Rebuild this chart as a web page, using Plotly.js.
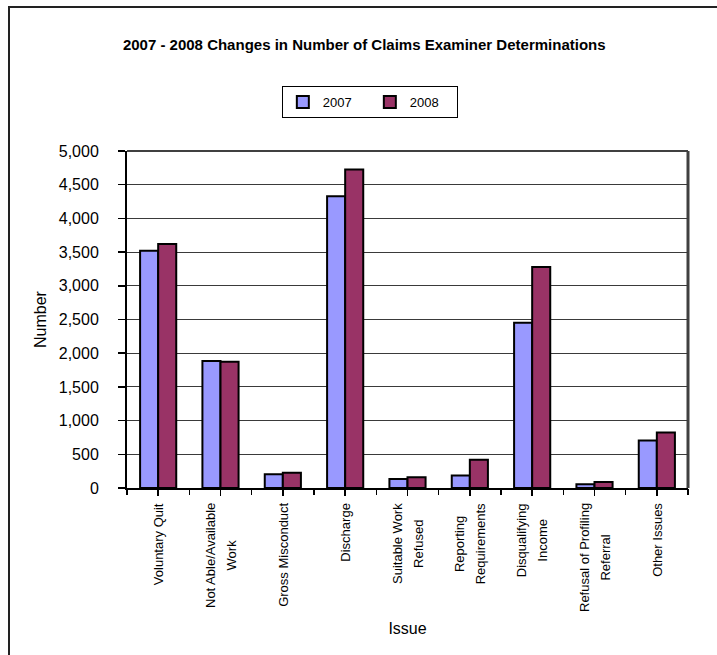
<!DOCTYPE html>
<html>
<head>
<meta charset="utf-8">
<script src="https://cdn.plot.ly/plotly-3.0.1.min.js"></script>
<style>
  html, body { margin: 0; padding: 0; background: #fff; }
  #wrap { position: relative; width: 717px; height: 655px; }
  #chart { width: 717px; height: 655px; }
  #frame { position: absolute; left: 8px; top: 6px; width: 720px; height: 660px;
           border-left: 2px solid #222; border-top: 2px solid #222; pointer-events: none; }
</style>
</head>
<body>
<div id="wrap">
  <div id="chart"></div>
  <div id="frame"></div>
</div>
<script>
// ---- data ----
const categories = [
  'Voluntary Quit',
  'Not Able/Available<br>Work',
  'Gross Misconduct',
  'Discharge',
  'Suitable Work<br>Refused',
  'Reporting<br>Requirements',
  'Disqualifying<br>Income',
  'Refusal of Profiling<br>Referral',
  'Other Issues'
];
const values2007 = [3520, 1885, 205, 4330, 135, 185, 2450, 55, 705];
const values2008 = [3620, 1875, 225, 4725, 160, 420, 3280, 90, 825];
const seriesNames = ['2007', '2008'];
const yTickVals = [0, 500, 1000, 1500, 2000, 2500, 3000, 3500, 4000, 4500, 5000];

const FONT = 'Liberation Sans, Arial, sans-serif';

const traces = [
  {
    type: 'bar', name: seriesNames[0], x: categories, y: values2007,
    marker: { color: '#9999FF', line: { color: '#000000', width: 2 } },
    hoverinfo: 'skip'
  },
  {
    type: 'bar', name: seriesNames[1], x: categories, y: values2008,
    marker: { color: '#993366', line: { color: '#000000', width: 2 } },
    hoverinfo: 'skip'
  },
  {
    // helper trace so the overlay axis carries the categories (for boundary ticks)
    type: 'scatter', mode: 'markers', x: categories, y: values2007,
    xaxis: 'x2', yaxis: 'y', marker: { opacity: 0 }, showlegend: false, hoverinfo: 'skip'
  }
];

const catAnnotations = categories.map(c => ({
  xref: 'x', yref: 'paper', x: c, y: 0, yshift: -13,
  xanchor: 'center', yanchor: 'top', textangle: -90, align: 'center',
  showarrow: false,
  text: c.split('<br>').map(s => '<span style="font-size:13px">' + s + '</span>').join('<br>'),
  font: { family: FONT, size: 16, color: '#000' }
}));

const layout = {
  width: 717, height: 655,
  margin: { l: 127, r: 29, t: 151, b: 167 },
  paper_bgcolor: '#ffffff', plot_bgcolor: '#ffffff',
  font: { family: FONT, color: '#000' },
  title: {
    text: '<b>2007 - 2008 Changes in Number of Claims Examiner Determinations</b>',
    font: { family: FONT, size: 15, color: '#000' },
    x: 0.508, xanchor: 'center', y: 1 - 45 / 655, yanchor: 'middle'
  },
  barmode: 'group', bargap: 0.42, bargroupgap: 0,
  showlegend: true,
  legend: {
    orientation: 'h', x: 0.276, y: 1.193, xanchor: 'left', yanchor: 'top',
    bordercolor: '#000', borderwidth: 1, bgcolor: '#fff',
    font: { family: FONT, size: 13, color: '#000' },
    traceorder: 'normal', entrywidth: 42, entrywidthmode: 'pixels'
  },
  xaxis: {
    type: 'category', range: [-0.5, 8.5], showticklabels: false,
    ticks: 'outside', ticklen: 6, tickwidth: 1.5, tickcolor: '#000',
    showline: true, linecolor: '#000', linewidth: 2, showgrid: false, zeroline: false,
    title: { text: 'Issue', font: { family: FONT, size: 16, color: '#000' }, standoff: 128 },
    fixedrange: true
  },
  xaxis2: {
    type: 'category', overlaying: 'x', matches: 'x', range: [-0.5, 8.5], side: 'bottom',
    showticklabels: false, tickson: 'boundaries',
    ticks: 'outside', ticklen: 6, tickwidth: 1.5, tickcolor: '#000',
    showline: false, showgrid: false, zeroline: false
  },
  yaxis: {
    range: [0, 5000], tickvals: yTickVals, tickformat: ',d',
    ticks: 'outside', ticklen: 7, tickwidth: 1.5, tickcolor: '#000',
    ticklabelstandoff: 16,
    tickfont: { family: FONT, size: 16, color: '#000' },
    showline: true, linecolor: '#000', linewidth: 2,
    showgrid: true, gridcolor: '#3a3a3a', gridwidth: 1, zeroline: false,
    title: { text: 'Number', font: { family: FONT, size: 16, color: '#000' }, standoff: 8 },
    fixedrange: true
  },
  shapes: [
    { type: 'line', xref: 'paper', yref: 'paper', x0: 0, x1: 1, y0: 1, y1: 1,
      line: { color: '#404040', width: 2 }, layer: 'below' },
    { type: 'line', xref: 'paper', yref: 'paper', x0: 1, x1: 1, y0: 0, y1: 1,
      line: { color: '#404040', width: 3 }, layer: 'below' }
  ],
  annotations: catAnnotations
};

Plotly.newPlot('chart', traces, layout, { displayModeBar: false, staticPlot: true });
</script>
</body>
</html>
